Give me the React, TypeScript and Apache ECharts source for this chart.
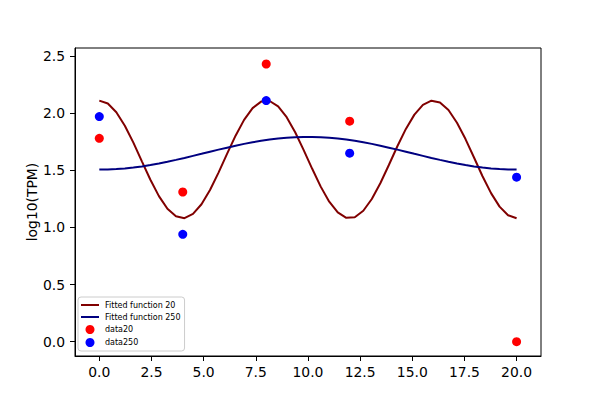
import React, { useEffect, useRef } from "react";
import * as echarts from "echarts";

const fitX = [
  0, 0.408, 0.816, 1.224, 1.633, 2.041, 2.449, 2.857, 3.265, 3.673,
  4.082, 4.49, 4.898, 5.306, 5.714, 6.122, 6.531, 6.939, 7.347, 7.755,
  8.163, 8.571, 8.98, 9.388, 9.796, 10.204, 10.612, 11.02, 11.429, 11.837,
  12.245, 12.653, 13.061, 13.469, 13.878, 14.286, 14.694, 15.102, 15.51, 15.918,
  16.327, 16.735, 17.143, 17.551, 17.959, 18.367, 18.776, 19.184, 19.592, 20.0,
];

const fit20 = [
  2.11, 2.084, 2.008, 1.89, 1.742, 1.578, 1.417, 1.274, 1.163, 1.097,
  1.081, 1.118, 1.203, 1.328, 1.48, 1.644, 1.803, 1.941, 2.044, 2.101,
  2.106, 2.059, 1.965, 1.833, 1.677, 1.513, 1.357, 1.225, 1.131, 1.084,
  1.089, 1.146, 1.249, 1.387, 1.546, 1.71, 1.862, 1.987, 2.072, 2.109,
  2.093, 2.027, 1.916, 1.773, 1.612, 1.448, 1.3, 1.182, 1.106, 1.08,
];

const fit250 = [
  1.506, 1.507, 1.511, 1.516, 1.524, 1.534, 1.546, 1.56, 1.575, 1.591,
  1.608, 1.626, 1.644, 1.663, 1.681, 1.698, 1.715, 1.731, 1.745, 1.758,
  1.769, 1.778, 1.785, 1.789, 1.792, 1.792, 1.789, 1.785, 1.778, 1.769,
  1.758, 1.745, 1.731, 1.715, 1.698, 1.681, 1.663, 1.644, 1.626, 1.608,
  1.591, 1.575, 1.56, 1.546, 1.534, 1.524, 1.516, 1.511, 1.507, 1.506,
];

const dataX = [0, 4, 8, 12, 20];
const data20 = [1.78, 1.31, 2.43, 1.93, 0.0];
const data250 = [1.97, 0.94, 2.11, 1.65, 1.44];

const xTicks = [0, 2.5, 5, 7.5, 10, 12.5, 15, 17.5, 20];
const yTicks = [0, 0.5, 1, 1.5, 2, 2.5];

const FONT = "DejaVu Sans";
const linePath = "path://M0,0L18,0L18,2L0,2Z";

export default function App() {
  const ref = useRef<HTMLDivElement>(null);
  useEffect(() => {
    if (!ref.current) return;
    const chart = echarts.init(ref.current, undefined, { renderer: "svg" });
    const pair = (xs: number[], ys: number[]) => xs.map((x, i) => [x, ys[i]]);
    chart.setOption({
      animation: false,
      backgroundColor: "#ffffff",
      grid: {
        left: 75,
        top: 48,
        right: 59,
        bottom: 44,
        show: true,
        borderColor: "#000",
        borderWidth: 1,
        backgroundColor: "transparent",
      },
      xAxis: {
        type: "value",
        min: -1.165,
        max: 21.17,
        axisLine: { show: true, onZero: false, lineStyle: { color: "#000", width: 1 } },
        axisTick: { show: true, length: 5, lineStyle: { color: "#000" }, customValues: xTicks },
        axisLabel: {
          customValues: xTicks,
          formatter: (v: number) => v.toFixed(1),
          color: "#000",
          fontFamily: FONT,
          fontSize: 13.9,
          margin: 9,
        },
        splitLine: { show: false },
      },
      yAxis: {
        type: "value",
        min: -0.125,
        max: 2.57,
        name: "log10(TPM)",
        nameLocation: "middle",
        nameRotate: 90,
        nameGap: 36,
        nameMoveOverlap: false,
        nameTextStyle: { color: "#000", fontFamily: FONT, fontSize: 13.9 },
        axisLine: { show: true, onZero: false, lineStyle: { color: "#000", width: 1 } },
        axisTick: { show: true, length: 5, lineStyle: { color: "#000" }, customValues: yTicks },
        axisLabel: {
          customValues: yTicks,
          formatter: (v: number) => v.toFixed(1),
          color: "#000",
          fontFamily: FONT,
          fontSize: 13.9,
          margin: 10,
        },
        splitLine: { show: false },
      },
      legend: {
        orient: "vertical",
        left: 78,
        top: 297,
        padding: [4, 4, 4, 3],
        itemWidth: 18,
        itemHeight: 9,
        itemGap: 4,
        backgroundColor: "#fff",
        borderColor: "#cccccc",
        borderWidth: 1,
        borderRadius: 3,
        selectedMode: false,
        symbolKeepAspect: true,
        textStyle: { color: "#000", fontFamily: FONT, fontSize: 8, padding: [0, 0, 0, 1] },
        data: [
          { name: "Fitted function 20", icon: linePath, itemStyle: { color: "#800000", borderWidth: 0 } },
          { name: "Fitted function 250", icon: linePath, itemStyle: { color: "#000080", borderWidth: 0 } },
          { name: "data20", icon: "circle", itemStyle: { color: "#ff0000", borderWidth: 0 } },
          { name: "data250", icon: "circle", itemStyle: { color: "#0000ff", borderWidth: 0 } },
        ],
      },
      series: [
        {
          name: "Fitted function 20",
          type: "line",
          data: pair(fitX, fit20),
          showSymbol: false,
          symbol: "none",
          lineStyle: { color: "#800000", width: 2 },
          itemStyle: { color: "#800000" },
          z: 2,
        },
        {
          name: "Fitted function 250",
          type: "line",
          data: pair(fitX, fit250),
          showSymbol: false,
          symbol: "none",
          lineStyle: { color: "#000080", width: 2 },
          itemStyle: { color: "#000080" },
          z: 3,
        },
        {
          name: "data20",
          type: "scatter",
          data: pair(dataX, data20),
          symbolSize: 9,
          itemStyle: { color: "#ff0000", opacity: 1 },
          z: 4,
        },
        {
          name: "data250",
          type: "scatter",
          data: pair(dataX, data250),
          symbolSize: 9,
          itemStyle: { color: "#0000ff", opacity: 1 },
          z: 5,
        },
      ],
    });
    return () => chart.dispose();
  }, []);
  return (
    <div
      ref={ref}
      style={{ position: "fixed", left: 0, top: 0, width: 600, height: 400 }}
    />
  );
}
